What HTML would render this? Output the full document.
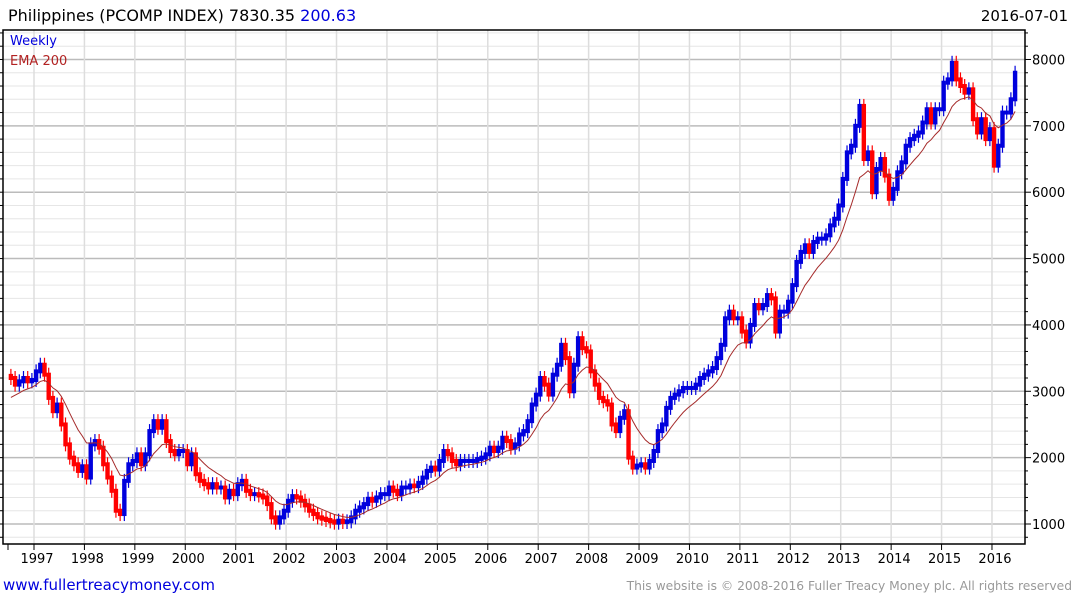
<!DOCTYPE html>
<html><head><meta charset="utf-8"><style>
body{margin:0;background:#fff;font-family:"DejaVu Sans","Liberation Sans",sans-serif;}
svg{display:block}
</style></head><body>
<svg id="chart" width="1075" height="600" xmlns="http://www.w3.org/2000/svg" font-family="DejaVu Sans, Liberation Sans, sans-serif">
<rect x="0" y="0" width="1075" height="600" fill="#fff"/>
<text x="8" y="21" font-size="16" fill="#000">Philippines (PCOMP INDEX) 7830.35 <tspan fill="#0000dd">200.63</tspan></text>
<text x="1068" y="21" font-size="15" fill="#000" text-anchor="end">2016-07-01</text>
<g id="grid"></g>
<g id="marks"></g>
<g id="axes"></g>
<text x="10" y="45" font-size="13" fill="#0000dd">Weekly</text>
<text x="10" y="65" font-size="13" fill="#b22222">EMA 200</text>
<text x="3" y="590" font-size="15" fill="#0000dd">www.fullertreacymoney.com</text>
<text x="1072" y="590" font-size="12.3" fill="#999" text-anchor="end">This website is © 2008-2016 Fuller Treacy Money plc. All rights reserved</text>
</svg>
<script>
const startYear = 1996, startMonth = 6;
const closes = [
3200,3100,3150,3200,3150,3170,
3300,3400,3250,2900,2700,2800,2500,2200,2000,1900,1800,1870,
1700,2200,2250,2150,1900,1700,1500,1200,1150,1650,1900,1950,
2050,1900,2050,2400,2550,2450,2550,2250,2100,2050,2100,2100,
1900,2050,1750,1650,1600,1550,1600,1550,1550,1400,1500,1450,
1600,1650,1500,1450,1450,1430,1400,1300,1100,1020,1100,1200,
1350,1420,1400,1350,1280,1200,1150,1100,1080,1060,1040,1020,
1050,1030,1040,1100,1200,1250,1300,1380,1350,1400,1450,1450,
1550,1500,1450,1550,1550,1580,1570,1620,1700,1800,1850,1820,
1950,2100,2050,1950,1900,1950,1950,1950,1950,1980,2000,2050,
2150,2100,2150,2300,2250,2150,2200,2350,2400,2550,2800,2950,
3200,3100,2950,3250,3400,3700,3500,3000,3400,3800,3650,3600,
3300,3100,2900,2850,2800,2500,2400,2600,2700,2000,1850,1880,
1900,1850,1950,2100,2400,2500,2750,2900,2950,3000,3050,3050,
3050,3100,3200,3250,3300,3350,3500,3700,4100,4200,4100,4100,
3900,3750,4000,4300,4250,4300,4450,4400,3900,4200,4200,4350,
4600,4950,5100,5200,5100,5250,5300,5300,5350,5500,5600,5800,
6200,6600,6700,7000,7300,6500,6600,6000,6350,6500,6250,5900,
6050,6300,6450,6700,6800,6850,6900,7050,7250,7050,7250,7250,
7650,7700,7950,7700,7600,7500,7550,7100,6900,7100,6800,6950,
6400,6700,7200,7200,7400,7800
];
const yTicks = [1000,2000,3000,4000,5000,6000,7000,8000];
const xYears = [1997,1998,1999,2000,2001,2002,2003,2004,2005,2006,2007,2008,2009,2010,2011,2012,2013,2014,2015,2016];
const emaSeed = 2850;
const emaPeriodMonths = 11;

const NS = "http://www.w3.org/2000/svg";
const L = 3, R = 1025, T = 30, B = 544;
function yScale(v){ return 524 - (v - 1000) * 0.06636; }
function xScale(t){ return 34 + (t - 1997) * 50.42; }
function mk(tag, attrs, parent){ const e = document.createElementNS(NS, tag); for (const k in attrs) e.setAttribute(k, attrs[k]); parent.appendChild(e); return e; }
const grid = document.getElementById('grid'), marks = document.getElementById('marks'), axes = document.getElementById('axes');

for (let v = 800; v <= 8400; v += 200) {
  const y = yScale(v); if (y < T || y > B) continue;
  const major = v % 1000 === 0;
  const ln = mk('line', {x1:L, x2:R, y1:y, y2:y, stroke: major ? '#bbb' : '#e6e6e6', 'stroke-width': major ? 1.5 : 1}, grid);
  
  
  const tk = mk('line', {x1:R, x2:R + (major ? 6 : 3), y1:y, y2:y, stroke:'#000'}, axes);
  
  
  const lt = mk('line', {x1:L, x2:L - 3, y1:y, y2:y, stroke:'#000'}, axes);
  
  
}
yTicks.forEach(v => {
  const t = mk('text', {x:1032, y:yScale(v) + 5, 'font-size':13, fill:'#000'}, axes);
  t.textContent = v;
  
  
});
xYears.forEach(yr => {
  const x = xScale(yr);
  const g = mk('line', {x1:x, x2:x, y1:T, y2:B, stroke:'#ddd', 'stroke-width':1.5}, grid);
  
  
  const tk = mk('line', {x1:x, x2:x, y1:B, y2:B + 6, stroke:'#000'}, axes);
  
  
  const t = mk('text', {x:x + 3, y:563, 'font-size':13, fill:'#000', 'text-anchor':'middle'}, axes);
  t.textContent = yr;
  
  
});
const st = mk('line', {x1:8, x2:8, y1:B, y2:B + 6, stroke:'#000'}, axes);


const frame = mk('path', {d:`M${L},${T} H${R} V${B} H${L} Z`, fill:'none', stroke:'#000', 'stroke-width':1.5}, axes);



let prev = closes[0];
const alpha = 2 / (emaPeriodMonths + 1);
let ema = emaSeed; const emaPts = [];
closes.forEach((c, i) => {
  const m = startMonth + i;
  const t = startYear + m / 12 + 0.5 / 12;
  const x = xScale(t);
  const o = i === 0 ? c * 1.01 : prev;
  const up = c >= o;
  const y1 = yScale(Math.max(o, c)), y2 = yScale(Math.min(o, c));
  const wick = mk('line', {x1:x, x2:x, y1:y1 - 7, y2:y2 + 7, stroke: up ? '#0000dd' : '#ff0000', 'stroke-width':1.2}, marks);
  
  
  const r = mk('rect', {x:x - 2.2, y:y1 - 2, width:4.4, height:Math.max(3, y2 - y1 + 4), fill: up ? '#0000dd' : '#ff0000'}, marks);
  
  
  ema = ema + alpha * (c - ema);
  emaPts.push(x.toFixed(1) + ',' + yScale(ema).toFixed(1));
  prev = c;
});
const el = mk('polyline', {points: emaPts.join(' '), fill:'none', stroke:'#a52a2a', 'stroke-width':1}, marks);


</script>
</body></html>
